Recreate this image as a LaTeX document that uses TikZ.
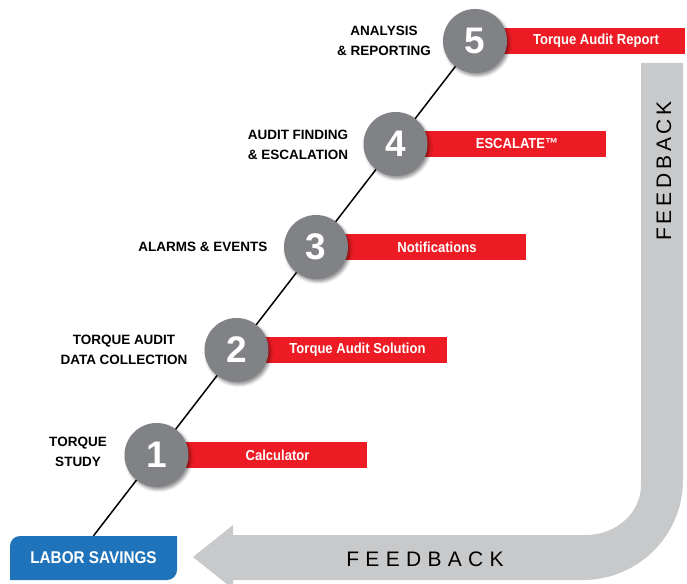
\documentclass[tikz,border=0pt]{standalone}
\usepackage{fontspec}
\setmainfont{Liberation Sans}
\newfontfamily\narrowsans[FakeStretch=0.9]{Liberation Sans}
\usetikzlibrary{shadows.blur,backgrounds}

\definecolor{stepred}{HTML}{ED1C24}
\definecolor{stepgray}{HTML}{808285}
\definecolor{fbgray}{HTML}{C8C9CB}
\definecolor{laborblue}{HTML}{1F73BA}

\begin{document}
\begin{tikzpicture}[x=1pt,y=-1pt,
  stage/.style={circle, fill=stepgray, minimum size=64pt, inner sep=0pt,
    text=white, font=\fontsize{37}{37}\selectfont\bfseries,
    blur shadow={shadow xshift=2pt, shadow yshift=-2.5pt,
      shadow blur radius=3pt, shadow opacity=45}},
  bar/.style={fill=stepred, anchor=west, minimum width=210pt,
    minimum height=26pt, inner sep=0pt},
  bartext/.style={text=white, font=\narrowsans\fontsize{14.5}{14.5}\selectfont\bfseries},
  tag/.style={align=center, font=\fontsize{13.5}{19.5}\selectfont\bfseries},
  fbtext/.style={font=\fontsize{21}{21}\selectfont}]

\useasboundingbox (0,0) rectangle (687,583);

% feedback return arrow
\begin{scope}
  \clip (0,0) rectangle (687,583);
  \fill[fbgray] (641,63) -- (683,63) -- (683,480)
    arc[start angle=0, end angle=90, radius=100]
    -- (233,580) -- (233,589) -- (193,557) -- (233,525) -- (233,535)
    -- (586,535) arc[start angle=90, end angle=0, x radius=55, y radius=50]
    -- cycle;
\end{scope}
\node[fbtext] (fbh) at (425,559) {\addfontfeatures{LetterSpace=30}FEEDBACK};
\node[fbtext, rotate=90] (fbv) at (664,171) {\addfontfeatures{LetterSpace=18}FEEDBACK};

% labor savings box
\fill[laborblue] (10,580) -- (10,546) arc[start angle=180, end angle=270, radius=10]
  -- (177,536) -- (177,570) arc[start angle=0, end angle=90, radius=10] -- cycle;
\node[minimum width=167pt, minimum height=44pt, inner sep=0pt, text=white,
  font=\narrowsans\fontsize{17}{17}\selectfont\bfseries] (lab) at (93.5,558) {LABOR SAVINGS};

% red bars
\node[bar] (b1) at (156.5,455) {};
\node[bar] (b2) at (236.5,350) {};
\node[bar] (b3) at (316,247) {};
\node[bar] (b4) at (395.5,144) {};
\node[bar] (b5) at (475,41) {};

\node[bartext] (t1) at (277.5,455) {Calculator};
\node[bartext] (t2) at (357.5,350) {Torque Audit Solution};
\node[bartext] (t3) at (437,247) {Notifications};
\node[bartext] (t4) at (517,144) {ESCALATE™};
\node[bartext] (t5) at (596,41) {Torque Audit Report};

% stage circles
\node[stage] (s1) at (156.5,455) {1};
\node[stage] (s2) at (236.5,350) {2};
\node[stage] (s3) at (316,247) {3};
\node[stage] (s4) at (395.5,144) {4};
\node[stage] (s5) at (475,41) {5};

% stage captions
\node[tag, align=left] (l1) at (78,452) {TORQUE\\\hspace*{6pt}STUDY};
\node[tag] (l2) at (124,350) {TORQUE AUDIT\\DATA COLLECTION};
\node[tag] (l3) at (203,247) {ALARMS \& EVENTS};
\node[tag] (l4) at (298,145) {AUDIT FINDING\\\& ESCALATION};
\node[tag] (l5) at (384,41) {ANALYSIS\\\& REPORTING};

% progression line behind the circles
\begin{scope}[on background layer]
  \draw[line width=1.5pt] (lab.north) -- (s5.center);
\end{scope}
\end{tikzpicture}
\end{document}
